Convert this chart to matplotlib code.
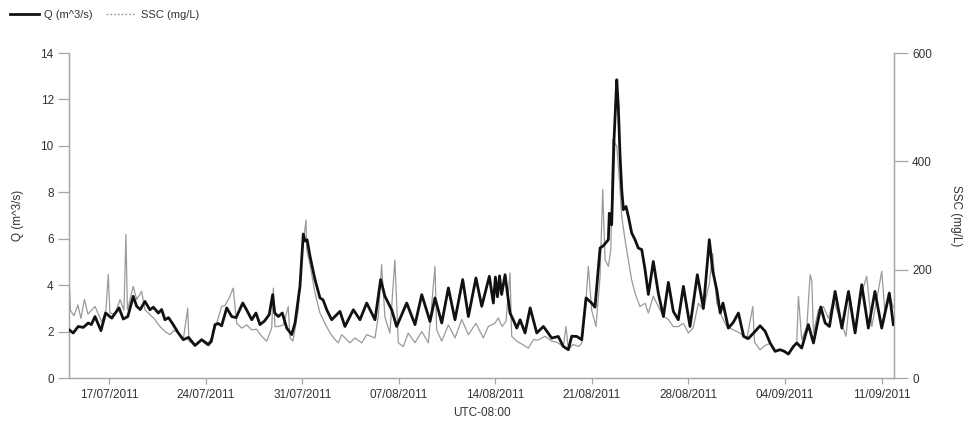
import matplotlib
matplotlib.use("Agg")
import matplotlib.pyplot as plt
import matplotlib.dates as mdates
from matplotlib.lines import Line2D
import pandas as pd

plt.rcParams['font.family'] = ['Liberation Sans', 'DejaVu Sans']

START = pd.Timestamp('2011-07-14 00:00')

# Discharge Q (m^3/s): days since START, value
q_day = [0.08, 0.39, 0.75, 1.12, 1.48, 1.70, 1.97, 2.40, 2.74, 3.18, 3.71, 4.02, 4.35, 4.74, 4.99,
         5.25, 5.59, 5.95, 6.20, 6.56, 6.80, 7.04, 7.30, 7.64, 8.01, 8.37, 8.75, 9.22, 9.70, 10.18,
         10.40, 10.67, 10.90, 11.15, 11.52, 11.88, 12.20, 12.68, 12.95, 13.33, 13.64, 13.93, 14.25,
         14.60, 14.85, 15.00, 15.26, 15.55, 15.87, 16.23, 16.47, 16.83, 17.07, 17.20, 17.35, 17.56,
         17.92, 18.28, 18.50, 18.80, 19.13, 19.73, 20.09, 20.70, 21.18, 21.67, 22.27, 22.68, 22.99,
         23.48, 23.84, 24.57, 25.17, 25.66, 26.26, 26.62, 27.11, 27.59, 28.07, 28.63, 29.04, 29.59,
         30.01, 30.56, 30.85, 31.00, 31.15, 31.30, 31.45, 31.70, 32.06, 32.30, 32.55, 32.79, 33.15,
         33.52, 34.00, 34.48, 34.75, 35.08, 35.56, 35.92, 36.29, 36.53, 36.90, 37.26, 37.57, 37.98,
         38.22, 38.59, 38.83, 39.19, 39.26, 39.43, 39.60, 39.80, 39.91, 40.04, 40.16, 40.28, 40.47,
         40.64, 40.88, 41.12, 41.36, 41.61, 41.85, 42.09, 42.45, 42.81, 43.18, 43.54, 43.90, 44.26,
         44.63, 45.11, 45.64, 46.08, 46.51, 46.76, 47.05, 47.30, 47.50, 47.89, 48.25, 48.62, 49.00,
         49.34, 49.83, 50.19, 50.56, 50.92, 51.28, 51.64, 51.95, 52.24, 52.61, 52.85, 53.21, 53.69,
         54.06, 54.59, 54.91, 55.22, 55.63, 56.12, 56.60, 57.08, 57.56, 58.04, 58.52, 59.01, 59.56,
         59.85]
q_val = [2.08, 1.94, 2.22, 2.18, 2.37, 2.30, 2.65, 2.04, 2.80, 2.58, 3.02, 2.54, 2.65, 3.52, 3.09,
         2.95, 3.30, 2.94, 3.05, 2.80, 2.95, 2.51, 2.60, 2.30, 1.94, 1.65, 1.75, 1.40, 1.65, 1.43,
         1.58, 2.30, 2.35, 2.25, 3.02, 2.65, 2.60, 3.23, 2.95, 2.51, 2.80, 2.30, 2.45,
         2.73, 3.59, 2.80, 2.65, 2.80, 2.15, 1.87, 2.37, 3.95, 6.20, 5.90, 5.95, 5.24,
         4.24, 3.45, 3.37, 2.90, 2.51, 2.87, 2.22, 2.94, 2.51, 3.23, 2.51, 4.24, 3.52,
         2.94, 2.22, 3.23, 2.30, 3.59, 2.44, 3.45, 2.37, 3.88, 2.51, 4.24, 2.65, 4.31,
         3.09, 4.38, 3.23, 4.35, 3.50, 4.40, 3.60, 4.45, 2.80, 2.50, 2.15, 2.51, 1.94,
         3.02, 1.94, 2.22, 2.00, 1.72, 1.79, 1.36, 1.22, 1.80, 1.79, 1.65, 3.45, 3.23,
         3.05, 5.60, 5.70, 5.96, 7.10, 6.60, 10.27, 12.85, 11.70, 9.55, 8.11, 7.25, 7.39,
         6.96, 6.25, 5.96, 5.60, 5.53, 4.67, 3.60, 5.02, 3.66, 2.65, 4.12, 2.87, 2.51,
         3.95, 2.22, 4.45, 3.00, 5.96, 4.60, 3.80, 2.80, 3.23, 2.15, 2.40, 2.80, 1.79,
         1.70, 2.01, 2.25, 2.01, 1.51, 1.15, 1.22, 1.15, 1.03, 1.36, 1.51, 1.29, 2.30,
         1.51, 3.06, 2.37, 2.22, 3.73, 2.15, 3.73, 1.94, 4.02, 2.15, 3.73, 2.15, 3.66,
         2.30]

# Suspended sediment concentration SSC (mg/L): days since START, value
ssc_day = [0.08, 0.19, 0.44, 0.73, 0.95, 1.20, 1.46, 1.97, 2.45, 2.76, 2.93, 3.05, 3.42, 3.78, 4.07,
           4.21, 4.32, 4.74, 4.99, 5.35, 5.59, 5.95, 6.31, 6.68, 7.04, 7.40, 7.69, 8.01, 8.37, 8.69,
           8.78, 9.22, 9.70, 10.18, 10.45, 10.79, 11.15, 11.39, 11.70, 11.99, 12.24, 12.60, 12.97,
           13.33, 13.69, 14.05, 14.42, 14.78, 14.90, 15.02, 15.26, 15.62, 15.98, 16.11, 16.32, 16.71,
           16.95, 17.27, 17.32, 17.56, 17.92, 18.28, 18.64, 19.01, 19.37, 19.61, 19.86, 20.45, 20.82,
           21.31, 21.67, 22.27, 22.51, 22.75, 22.99, 23.35, 23.71, 23.96, 24.32, 24.68, 25.17, 25.66,
           26.14, 26.62, 26.74, 27.11, 27.59, 28.07, 28.56, 29.04, 29.59, 30.12, 30.48, 30.96, 31.21,
           31.48, 31.77, 32.06, 32.18, 32.55, 33.03, 33.39, 33.76, 34.09, 34.60, 35.08, 35.47, 35.92,
           36.12, 36.29, 36.63, 37.03, 37.26, 37.50, 37.74, 37.98, 38.29, 38.59, 38.78, 38.95, 39.19,
           39.37, 39.51, 39.80, 39.99, 40.16, 40.40, 40.64, 40.88, 41.12, 41.48, 41.85, 42.09, 42.45,
           42.81, 43.18, 43.54, 43.90, 44.26, 44.63, 44.99, 45.33, 45.72, 46.08, 46.51, 46.75, 47.05,
           47.41, 47.77, 48.25, 48.73, 49.22, 49.66, 49.79, 50.19, 50.56, 50.92, 51.28, 51.64, 52.24,
           52.61, 52.85, 52.97, 53.21, 53.58, 53.82, 53.94, 54.06, 54.42, 54.78, 55.15, 55.51, 55.99,
           56.42, 56.71, 57.08, 57.56, 57.92, 58.29, 58.65, 59.01, 59.25, 59.61, 59.85]
ssc_val = [195, 125, 115, 135, 110, 145, 118, 132, 104, 125, 191, 120, 118, 145, 125,
           265, 126, 169, 145, 160, 126, 117, 108, 95, 86, 80, 88, 83, 71, 129,
           68, 61, 71, 65, 75, 101, 132, 134, 148, 166, 101, 92, 98,
           89, 90, 77, 68, 92, 166, 95, 95, 98, 132, 74, 68, 126,
           224, 292, 237, 209, 157, 120, 101, 83, 71, 65, 80, 65, 74,
           65, 80, 74, 114, 209, 112, 83, 218, 65, 58, 83, 65, 86,
           65, 206, 89, 68, 98, 74, 108, 80, 101, 74, 95, 101, 111,
           95, 105, 194, 77, 68, 61, 55, 71, 70, 77, 68, 66, 58,
           95, 52, 62, 58, 64, 120, 206, 125, 95, 188, 348, 218, 206,
           237, 440, 428, 366, 298, 255, 218, 181, 157, 132, 138, 120, 151,
           132, 114, 108, 95, 95, 101, 83, 92, 138, 126, 175, 230, 138,
           114, 95, 89, 83, 71, 132, 66, 52, 60, 64, 49, 52, 44,
           58, 64, 151, 71, 95, 191, 180, 83, 126, 132, 110, 145, 108,
           77, 151, 89, 157, 188, 95, 145, 197, 120, 151, 130]

q_time = START + pd.to_timedelta(q_day, unit='D')
ssc_time = START + pd.to_timedelta(ssc_day, unit='D')

tick_dates = pd.date_range('2011-07-17', periods=9, freq='7D')

AXIS_GREY = '#a6a6a6'
TEXT = '#333333'

fig = plt.figure(figsize=(9.69, 4.28), dpi=100)
ax1 = fig.add_axes([0.0712, 0.1168, 0.8514, 0.7593])
ax2 = ax1.twinx()

ax2.plot(ssc_time, ssc_val, color='#9a9a9a', lw=0.9, zorder=1)
ax1.plot(q_time, q_val, color='#111111', lw=2.0, zorder=3)

# draw discharge above concentration
ax1.set_zorder(ax2.get_zorder() + 1)
ax1.patch.set_visible(False)

ax1.set_xlim(START + pd.Timedelta(hours=2), START + pd.Timedelta(days=59.9))
ax1.set_ylim(0, 14)
ax2.set_ylim(0, 600)
ax1.set_yticks(range(0, 15, 2))
ax2.set_yticks([0, 200, 400, 600])
ax1.set_xticks(tick_dates)
ax1.xaxis.set_major_formatter(mdates.DateFormatter('%d/%m/%Y'))

for ax in (ax1, ax2):
    ax.spines['top'].set_visible(False)
    for s in ('left', 'right', 'bottom'):
        ax.spines[s].set_color(AXIS_GREY)
        ax.spines[s].set_linewidth(0.9)
    ax.tick_params(colors=AXIS_GREY, labelcolor=TEXT, labelsize=8.5, width=0.9)
ax1.tick_params(axis='y', length=8, pad=3)
ax1.tick_params(axis='x', length=4, pad=4)
ax2.tick_params(axis='y', length=10, pad=3)

ax1.set_ylabel('Q (m^3/s)', fontsize=8.5, color=TEXT, labelpad=12)
ax2.set_ylabel('SSC (mg/L)', fontsize=8.5, color=TEXT, rotation=270, labelpad=22)
ax1.set_xlabel('UTC-08:00', fontsize=8.5, color=TEXT, labelpad=4)

handles = [Line2D([], [], color='#111111', lw=2.0),
           Line2D([], [], color='#9a9a9a', lw=0.9, ls=(0, (1.5, 1.5)))]
fig.legend(handles, ['Q (m^3/s)', 'SSC (mg/L)'], loc='upper left', bbox_to_anchor=(0.0, 1.0),
           ncol=2, frameon=False, fontsize=8, handlelength=2.6, columnspacing=1.2,
           handletextpad=0.5, labelcolor=TEXT)

fig.savefig('out.png', dpi=100)
